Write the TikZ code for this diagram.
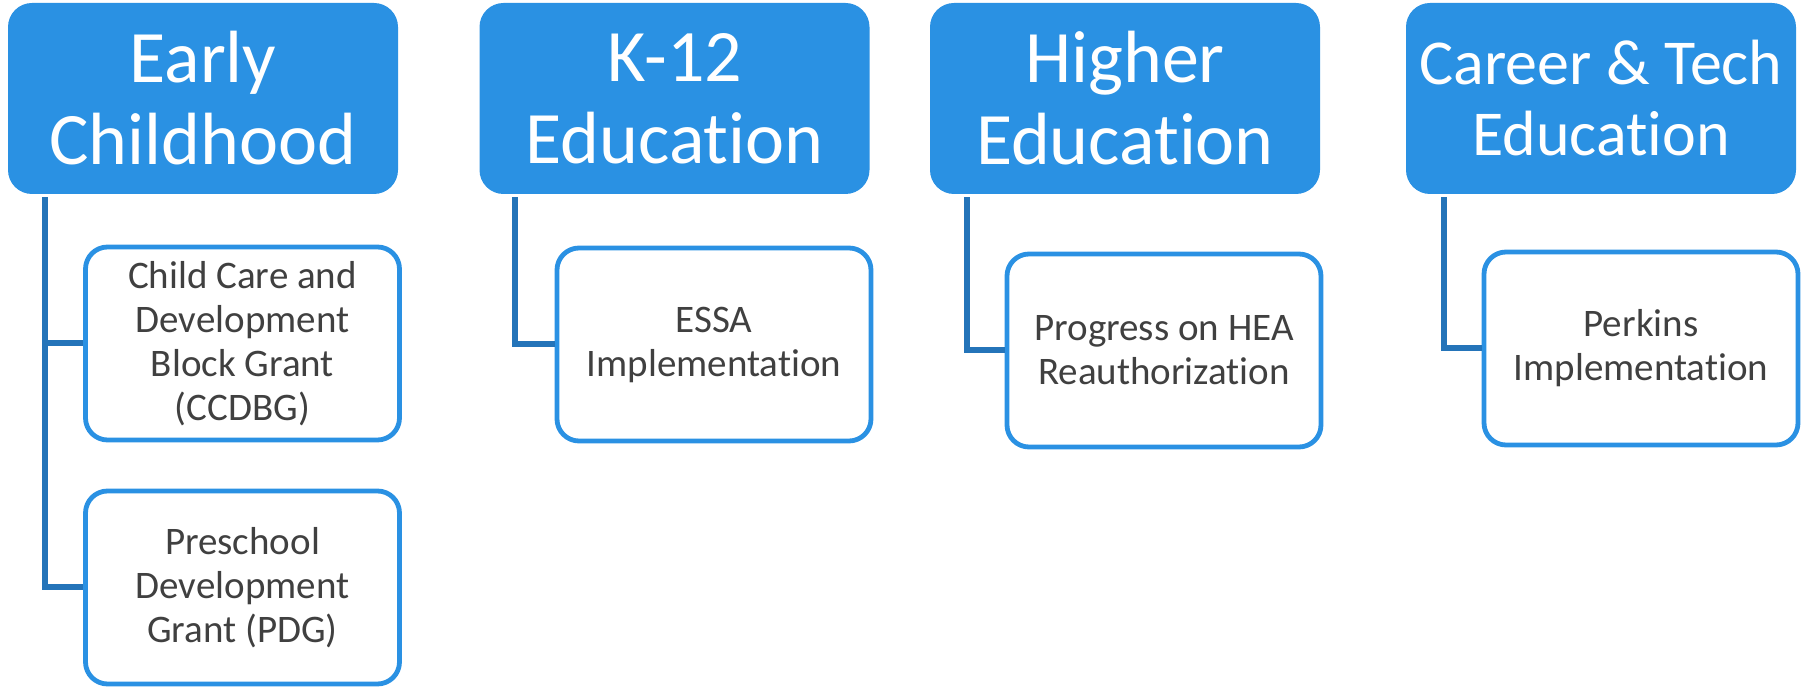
\documentclass[tikz,border=0pt]{standalone}
\usepackage{fontspec}
\setmainfont{Carlito}[Ligatures=NoCommon]
\usetikzlibrary{positioning}
\definecolor{hdrblue}{HTML}{2A91E3}
\definecolor{linkblue}{HTML}{2474B9}
\definecolor{txtgray}{HTML}{404040}

\begin{document}
\begin{tikzpicture}[on grid, auto,
    header/.style = {rectangle, rounded corners=12pt, fill=hdrblue, text=white,
      minimum width=195pt, minimum height=95.5pt, inner sep=0pt, align=center,
      font=\fontsize{37}{41}\selectfont},
    item/.style = {rectangle, rounded corners=11pt, draw=hdrblue, line width=2.4pt, fill=white,
      text=txtgray, minimum width=157pt, minimum height=96.5pt, inner sep=0pt, align=center,
      font=\fontsize{19.5}{22}\selectfont},
    link/.style = {draw=linkblue, line width=3pt}]
  \useasboundingbox (0,0) rectangle (903pt,-344pt);
  \node[header] (early) at (101.5pt,-49.25pt) {Early\\Childhood};
  \node[header] (k12) [right=235.75pt of early] {K-12\\Education};
  \node[header] (higher) [right=225.25pt of k12] {Higher\\Education};
  \node[header, font=\fontsize{32}{35.5}\selectfont] (career) [right=238pt of higher] {Career \& Tech\\Education};
  \node[item] (ccdbg) [below right=122.5pt and 19.75pt of early] {Child Care and\\Development\\Block Grant\\(CCDBG)};
  \node[item] (pdg) [below=122pt of ccdbg] {Preschool\\Development\\Grant (PDG)};
  \node[item] (essa) [below right=123pt and 19.75pt of k12] {ESSA\\Implementation};
  \node[item] (hea) [below right=126pt and 19.5pt of higher] {Progress on HEA\\Reauthorization};
  \node[item] (perkins) [below right=125pt and 20pt of career] {Perkins\\Implementation};
  \path[link]
    ([shift={(18.5pt,-1.5pt)}]early.south west) |- (ccdbg.west)
    ([shift={(18.5pt,-1.5pt)}]early.south west) |- (pdg.west)
    ([shift={(18pt,-1.5pt)}]k12.south west) |- (essa.west)
    ([shift={(18.5pt,-1.5pt)}]higher.south west) |- (hea.west)
    ([shift={(19pt,-1.5pt)}]career.south west) |- (perkins.west);
\end{tikzpicture}
\end{document}
